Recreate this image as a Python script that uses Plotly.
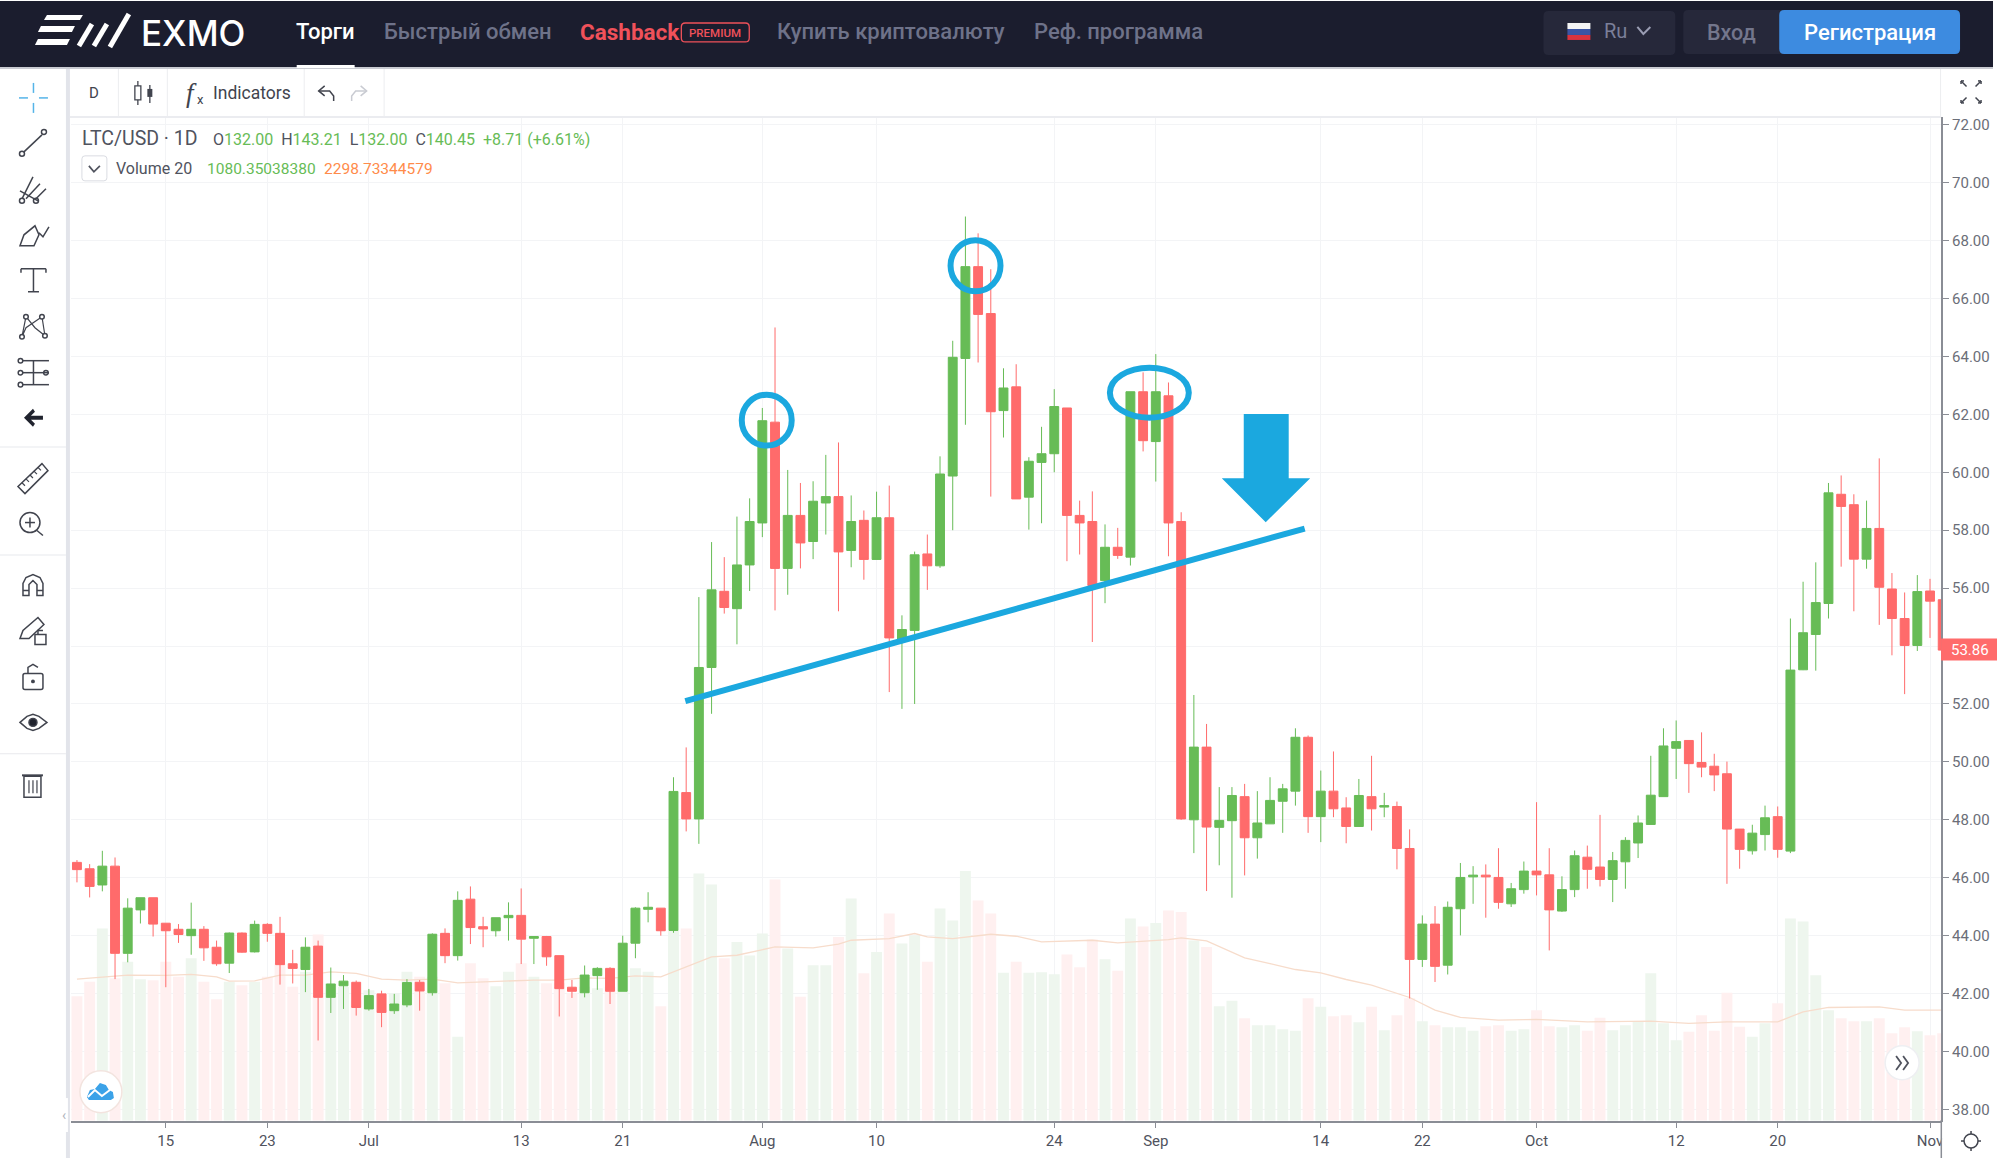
import pandas as pd
import plotly.graph_objects as go

W, H = 1999, 1158

# LTC/USD daily candles, one row per month
open_ = [46.53,46.31,45.75,46.40,43.39,44.89,45.31,44.43,44.22,44.00,44.22,43.60,43.05,44.09,43.44,44.39,44.08,43.03,42.83,43.64,41.87,42.27,42.39,
    41.47,41.99,41.41,41.61,42.39,42.03,44.08,43.31,45.26,44.31,44.17,44.62,44.70,43.91,43.97,43.31,42.22,42.03,42.62,42.87,42.08,43.74,44.91,44.95,44.18,48.94,48.03,53.26,55.89,55.29,56.80,
    58.25,61.73,56.68,58.51,57.61,58.94,59.16,57.30,58.34,56.99,58.43,54.20,54.54,57.18,56.77,59.87,63.93,67.10,65.48,62.13,62.95,59.14,60.34,60.64,62.22,58.51,58.30,56.26,57.41,57.07,62.78,
    61.06,62.64,58.30,48.00,50.51,47.74,47.97,48.80,47.38,47.86,48.64,48.99,50.85,48.11,48.99,48.41,47.77,48.80,48.44,48.46,47.01,43.18,44.40,42.98,44.93,46.03,46.09,46.01,45.10,45.59,
    46.23,46.10,44.85,45.59,46.71,46.37,45.94,46.55,47.20,47.84,48.80,50.47,50.74,49.98,49.85,49.59,47.68,46.93,47.49,48.11,46.92,53.18,54.40,55.47,59.24,58.88,57.00,58.06,55.97,54.95,54.02,
    55.90,55.60]
close = [46.28,45.70,46.40,43.39,44.95,45.31,44.40,44.17,44.04,44.22,43.58,43.03,44.09,43.43,44.39,44.08,43.00,42.87,43.60,41.87,42.33,42.43,41.52,
    41.93,41.35,41.64,42.38,42.09,44.05,43.31,45.22,44.28,44.23,44.62,44.70,43.88,43.97,43.27,42.17,42.08,42.64,42.87,42.08,43.74,44.95,44.98,44.17,48.98,48.03,53.26,55.94,55.33,56.80,58.30,
    61.78,56.68,58.51,57.56,59.00,59.16,57.25,58.30,56.99,58.43,54.28,54.57,57.15,56.77,59.94,63.97,67.10,65.45,62.09,62.91,59.08,60.38,60.64,62.27,58.51,58.25,56.09,57.41,57.13,62.78,61.09,
    62.78,58.25,48.03,50.51,47.75,47.98,48.84,47.38,47.89,48.67,49.07,50.85,48.11,48.99,48.38,47.77,48.84,48.38,48.49,47.01,43.18,44.40,42.94,44.98,46.01,46.09,46.03,45.15,45.62,46.23,
    46.10,44.89,45.59,46.76,46.29,45.94,46.59,47.29,47.89,48.85,50.55,50.70,49.94,49.82,49.55,47.68,46.98,47.54,48.07,46.98,53.17,54.46,55.50,59.29,58.82,57.00,58.06,56.03,54.95,54.02,55.88,
    55.55,53.86]
high = [46.61,46.47,46.93,46.70,45.29,45.31,45.31,44.43,44.40,45.14,44.33,43.83,44.11,44.11,44.52,44.43,44.65,43.51,43.94,43.83,42.90,42.64,42.45,
    42.16,42.10,41.99,42.50,42.47,44.08,44.25,45.53,45.70,44.65,44.62,45.15,45.63,43.97,43.99,43.31,42.47,42.97,42.91,42.91,44.00,44.98,45.50,44.95,49.47,50.50,55.69,57.59,57.07,58.47,59.10,
    62.22,65.00,60.08,59.63,59.69,60.60,61.03,59.20,58.68,59.33,59.54,55.06,57.26,57.85,60.55,64.54,68.83,68.25,67.01,63.59,63.73,60.52,61.57,62.87,62.22,59.02,59.34,58.20,58.08,62.78,63.45,
    64.08,63.10,58.62,52.31,51.31,49.13,49.13,49.24,48.99,49.47,49.24,51.16,50.91,49.70,50.36,48.78,49.41,50.21,48.93,48.63,47.67,44.70,45.02,45.18,46.51,46.40,46.46,47.02,45.82,46.56,
    48.61,47.02,46.05,46.94,47.11,48.17,46.89,47.40,48.15,50.21,51.16,51.43,50.74,51.02,50.28,50.01,47.68,47.83,48.49,48.46,54.95,56.22,56.89,59.63,59.89,59.24,59.02,60.48,56.52,55.85,56.45,
    56.32,56.00]
low = [45.84,45.32,45.53,42.50,43.08,44.42,43.97,42.22,43.75,43.34,43.13,42.96,42.71,43.41,43.42,43.79,42.31,42.35,42.05,40.38,41.33,41.47,41.24,
    41.41,40.84,41.30,41.53,41.41,41.93,43.05,43.14,43.71,43.60,43.97,43.83,43.02,43.02,42.96,41.21,41.85,41.87,42.13,41.64,42.08,43.22,44.46,44.00,44.10,47.60,47.17,51.66,55.12,54.06,55.90,
    57.76,55.23,55.77,56.68,57.00,57.85,55.20,56.72,56.29,56.99,52.41,51.83,52.00,55.94,56.70,58.00,61.64,63.79,59.16,61.20,59.08,58.02,58.24,60.00,56.93,57.16,54.14,55.48,57.01,56.78,60.72,
    59.68,57.10,48.00,46.85,45.54,46.43,45.31,46.08,46.66,47.86,47.55,48.49,47.55,47.23,48.09,47.19,47.77,47.63,48.09,46.29,41.83,42.92,42.40,42.66,44.01,45.10,44.62,44.93,44.99,45.45,
    45.39,43.49,44.82,45.33,45.62,45.70,45.16,45.62,46.68,47.84,48.80,49.41,48.93,49.47,48.99,45.79,46.31,46.80,46.94,46.69,46.85,53.17,53.15,54.95,56.74,55.20,56.67,54.73,53.68,52.34,53.83,
    54.28,53.50]
volume = [2490,2780,3850,2850,3180,2830,2810,3180,2880,3250,2780,2430,2780,2710,2780,2880,3150,2680,2980,3730,2750,2680,2410,
    2610,2550,2550,2980,2880,2880,2750,1680,3150,2850,2690,2980,3150,2880,2750,2750,2550,2680,2650,2680,2850,3050,2980,2290,3810,3850,4950,4730,3250,3580,3310,
    3750,4830,3450,2480,3110,3110,3680,4450,2950,3380,4150,3550,3710,3180,4250,4010,5000,4410,4150,2960,3180,2960,2970,2930,3330,3070,3630,3230,3000,4050,3890,
    3960,4210,4180,3610,3480,2290,2400,2050,1910,1910,1830,1800,2450,2280,2090,2110,1970,2280,1810,2110,2450,1990,1910,1870,1870,1800,1890,1910,1800,1830,
    2210,1890,1870,1910,1800,2060,1810,1910,1980,2950,1950,1610,1780,2110,1800,2560,1880,1680,1950,2350,4050,3990,2910,2210,2050,1990,1990,2050,1750,1870,1790,
    1710,1750]
dates = pd.date_range("2020-06-08", periods=len(close))

ma_dates = ["06-08","06-10","06-12","06-15","06-17","06-19","06-20","06-22","06-24","06-26","06-28","06-30",
    "07-02","07-04","07-06","07-08","07-10","07-12","07-14","07-16","07-18","07-20","07-22","07-24","07-26","07-28","07-30",
    "08-01","08-02","08-05","08-07","08-08","08-11","08-13","08-14","08-16","08-19","08-21","08-23","08-27","08-29",
    "09-02","09-03","09-05","09-08","09-10","09-12","09-14","09-16","09-18","09-21","09-23","09-25","09-28",
    "10-01","10-05","10-10","10-13","10-16","10-20","10-22","10-24","10-28","10-30","11-02"]
ma_values = [2835,2868,2915,2908,2928,2881,2795,2801,2915,2915,2981,2948,
    2835,2815,2835,2761,2781,2795,2815,2815,2861,2848,2901,2881,3081,3281,3313,
    3427,3480,3460,3533,3613,3647,3747,3680,3647,3733,3693,3580,3613,3560,
    3627,3660,3600,3260,3147,3027,2960,2827,2713,2467,2213,2067,2013,
    2027,1980,1993,1947,1980,1980,2180,2267,2280,2213,2213]

tick_dates = ["2020-06-15","2020-06-23","2020-07-01","2020-07-13","2020-07-21","2020-08-01","2020-08-10","2020-08-24",
    "2020-09-01","2020-09-14","2020-09-22","2020-10-01","2020-10-12","2020-10-20","2020-11-01"]
tick_labels = ["15","23","Jul","13","21","Aug","10","24","Sep","14","22","Oct","12","20","Nov"]

GREEN = "#67BC56"
RED = "#FF6B6B"
BLUE = "#1BA8DF"
NAV = "#1B1D2E"
ICON = "#41444E"
FONT = "Roboto"

# plot box in page pixels
LEFT, RIGHT, TOP, BOTTOM = 71, 1943, 116, 1120.7

def px(x):
    return x / W

def py(y):
    return 1 - y / H

shapes = []
notes = []

def line(x0, y0, x1, y1, color=ICON, w=1.5):
    shapes.append(dict(type="line", xref="paper", yref="paper", x0=px(x0), y0=py(y0), x1=px(x1), y1=py(y1),
                       line=dict(color=color, width=w)))

def rect(x0, y0, x1, y1, fill, edge=None, w=1):
    shapes.append(dict(type="rect", xref="paper", yref="paper", x0=px(x0), y0=py(y0), x1=px(x1), y1=py(y1),
                       fillcolor=fill, line=dict(color=edge or fill, width=w if edge else 0)))

def circle(cx, cy, r, fill="rgba(0,0,0,0)", edge=ICON, w=1.5, ry=None):
    ry = ry or r
    shapes.append(dict(type="circle", xref="paper", yref="paper", x0=px(cx - r), y0=py(cy - ry), x1=px(cx + r), y1=py(cy + ry),
                       fillcolor=fill, line=dict(color=edge, width=w)))

def poly(points, fill="rgba(0,0,0,0)", edge=None, w=1.5, closed=True):
    d = "M " + " L ".join(f"{px(x):.5f},{py(y):.5f}" for x, y in points) + (" Z" if closed else "")
    shapes.append(dict(type="path", xref="paper", yref="paper", path=d, fillcolor=fill,
                       line=dict(color=edge or fill, width=w if edge else 0)))

def rrect(x0, y0, x1, y1, r, fill, edge=None, w=1):
    d = (f"M {px(x0+r):.5f},{py(y0):.5f} L {px(x1-r):.5f},{py(y0):.5f} Q {px(x1):.5f},{py(y0):.5f} {px(x1):.5f},{py(y0+r):.5f} "
         f"L {px(x1):.5f},{py(y1-r):.5f} Q {px(x1):.5f},{py(y1):.5f} {px(x1-r):.5f},{py(y1):.5f} "
         f"L {px(x0+r):.5f},{py(y1):.5f} Q {px(x0):.5f},{py(y1):.5f} {px(x0):.5f},{py(y1-r):.5f} "
         f"L {px(x0):.5f},{py(y0+r):.5f} Q {px(x0):.5f},{py(y0):.5f} {px(x0+r):.5f},{py(y0):.5f} Z")
    shapes.append(dict(type="path", xref="paper", yref="paper", path=d, fillcolor=fill,
                       line=dict(color=edge or fill, width=w if edge else 0)))

def txt(x, y, s, size, color, anchor="left", family=FONT, weight=400):
    notes.append(dict(xref="paper", yref="paper", x=px(x), y=py(y), text=s, showarrow=False, xanchor=anchor, yanchor="middle",
                      font=dict(family=family, size=size, color=color, weight=weight), borderpad=0, borderwidth=0))

# top bar
rect(0, 0, 1995, 66, NAV)
rect(0, 66, 1995, 68, "#C9CBD2")
rect(297, 64, 355, 67, "#FFFFFF")
poly([(47, 14), (83, 14), (80, 19), (44, 19)], "#FFFFFF")
poly([(41, 25), (75, 25), (72, 31), (38, 31)], "#FFFFFF")
poly([(38, 38), (70, 38), (67, 44), (35, 44)], "#FFFFFF")
line(79, 45, 92, 23, "#FFFFFF", 5)
line(94, 45, 107, 23, "#FFFFFF", 5)
line(110, 46, 129, 13, "#FFFFFF", 5)
txt(141, 32, "EXMO", 35, "#FFFFFF", family="Inter", weight=500)
txt(326, 31, "Торги", 22, "#FFFFFF", "center", weight=500)
txt(384, 31, "Быстрый обмен", 22, "#6E7289", weight=500)
txt(581, 31, "Cashback", 22.5, "#F0515A", weight=700)
rrect(682, 22, 750, 41, 4, "rgba(0,0,0,0)", "#F0515A", 1.3)
txt(716, 32, "PREMIUM", 11.5, "#F0515A", "center", weight=500)
txt(778, 31, "Купить криптовалюту", 22, "#6E7289", weight=500)
txt(1035, 31, "Реф. программа", 22, "#6E7289", weight=500)
rrect(1545, 10, 1677, 54, 5, "#26283A")
rect(1569, 22, 1592, 28, "#F5F5F5")
rect(1569, 28, 1592, 34, "#3B55A5")
rect(1569, 34, 1592, 39, "#D9333F")
txt(1617, 30, "Ru", 20, "#7B7F99", "center")
poly([(1639, 26), (1645, 33), (1652, 26)], edge="#9A9DB3", w=2, closed=False)
rrect(1685, 9, 1790, 53, 5, "#26283A")
rrect(1781, 9, 1962, 53, 5, "#3D8BE0")
txt(1733, 32, "Вход", 21.5, "#73768C", "center", weight=500)
txt(1872, 32, "Регистрация", 22, "#FFFFFF", "center", weight=500)

# drawing toolbar column
rect(66, 68, 70, H, "#E2E4EA")
rect(0, 446, 66, 447, "#E8E9ED")
rect(0, 554, 66, 555, "#E8E9ED")
rect(0, 753, 66, 754, "#E8E9ED")
rect(60, 1098, 68, 1132, "#FFFFFF")
txt(64, 1115, "‹", 14, "#B0B3BC", "center")

# chart toolbar row
rect(70, 115, RIGHT, 117, "#EBECF0")
for sep_x in [118, 167, 304, 384, 1942]:
    rect(sep_x, 68, sep_x + 1, 116, "#ECEDF0")
txt(94, 92, "D", 15, ICON, "center")
line(138, 80, 138, 104, ICON, 1.3)
rect(135, 85, 141, 99, "#FFFFFF", ICON, 1.3)
line(150, 84, 150, 102, ICON, 1.3)
rect(147.5, 88, 152.5, 96, ICON)
txt(192, 92, "<i>f</i>", 27, ICON, "center", "Liberation Serif")
txt(197, 99, "x", 13, ICON, "left")
txt(213, 92, "Indicators", 17.5, ICON)
poly([(325, 85), (319, 90), (325, 95)], edge=ICON, closed=False)
poly([(319, 90), (330, 90), (334, 95), (334, 100)], edge=ICON, closed=False)
poly([(361, 85), (367, 90), (361, 95)], edge="#C9CBD2", closed=False)
poly([(367, 90), (356, 90), (352, 95), (352, 100)], edge="#C9CBD2", closed=False)
for sx, sy in [(-1, -1), (1, -1), (-1, 1), (1, 1)]:
    cx, cy = 1973 + sx * 7, 91 + sy * 8
    line(cx - sx * 2.5, cy - sy * 2.5, cx + sx * 3, cy + sy * 3, ICON, 1.5)
    line(cx + sx * 3, cy + sy * 3, cx, cy + sy * 3, ICON, 1.5)
    line(cx + sx * 3, cy + sy * 3, cx + sx * 3, cy, ICON, 1.5)

# toolbar icons
ACTIVE = "#55B4E8"
line(33.5, 82, 33.5, 92, ACTIVE, 1.5)
line(33.5, 102, 33.5, 112, ACTIVE, 1.5)
line(19, 97, 28, 97, ACTIVE, 1.5)
line(39, 97, 48, 97, ACTIVE, 1.5)

line(24, 151, 42, 134)
circle(22, 153, 2.5)
circle(44, 131, 2.5)

line(22, 198, 33, 176)
line(26, 198, 40, 183)
line(36, 198, 46, 188)
line(20, 190, 38, 200)
circle(22, 200, 2.5)
circle(36, 200, 2.5)

poly([(20, 245), (24, 234), (35, 225), (39, 234), (34, 245)], edge=ICON)
poly([(39, 232), (43, 236), (49, 226)], edge=ICON, closed=False)

line(21, 268, 46, 268)
line(21, 268, 21, 272)
line(46, 268, 46, 272)
line(33.5, 268, 33.5, 291)
line(28, 291, 39, 291)

poly([(22, 336), (26, 316), (35, 327), (45, 335), (42, 316), (26, 327), (22, 336)], edge=ICON, w=1.2, closed=False)
for ix, iy in [(22, 336), (26, 316), (45, 335), (42, 316)]:
    circle(ix, iy, 2.3, "#FFFFFF")

for row_y in [360, 372, 384]:
    line(23, row_y, 49, row_y)
    circle(20.5, row_y, 2.3)
circle(46, 372, 2.3)
line(33.5, 360, 33.5, 384)

poly([(24, 417), (33, 408), (35, 411), (31, 415), (43, 415), (43, 419), (31, 419), (35, 423), (33, 426)], "#20232E")

poly([(18, 486), (42, 463), (48, 470), (25, 493)], edge=ICON)
for k in range(1, 6):
    tx, ty = 18 + k * 4, 486 - k * 3.85
    line(tx, ty, tx + 3, ty + 3, ICON, 1.2)

circle(30, 522, 10)
line(25, 522, 35, 522)
line(30, 517, 30, 527)
line(37, 530, 43, 535)

poly([(23, 595), (23, 583), (26, 577), (33, 574), (40, 577), (43, 583), (43, 595), (37, 595), (37, 584), (33, 580), (29, 584), (29, 595)], edge=ICON)
line(23, 590, 29, 590)
line(37, 590, 43, 590)

poly([(20, 638), (23, 630), (38, 617), (44, 624), (29, 638)], edge=ICON)
rect(35, 634, 46, 644, "#FFFFFF", ICON, 1.5)
poly([(38, 634), (38, 630), (43, 630)], edge=ICON, closed=False)

rrect(23, 673, 43, 689, 2, "#FFFFFF", ICON, 1.5)
poly([(28, 673), (28, 667), (33, 664), (38, 667)], edge=ICON, closed=False)
circle(33, 681, 1.2, ICON)

poly([(20, 722), (27, 716), (33, 714), (39, 716), (47, 722), (39, 728), (33, 730), (27, 728)], edge=ICON)
circle(33, 722, 4, "#20232E")

rect(24, 776, 41, 797, "#FFFFFF", ICON, 1.5)
line(22, 775, 43, 775, ICON, 2)
for bar_x in [29, 33, 37]:
    line(bar_x, 780, bar_x, 793, ICON, 1.2)

# legend block
txt(82, 138, "LTC/USD · 1D", 19.5, "#50535E")
g = lambda s: f"<span style='color:{GREEN}'>{s}</span>"
txt(213, 139, f"O{g('132.00')}  H{g('143.21')}  L{g('132.00')}  C{g('140.45')}  {g('+8.71 (+6.61%)')}", 16, "#50535E")
rrect(82, 155, 107, 180, 3, "#FFFFFF", "#DADCE2", 1)
poly([(89, 165), (94, 171), (100, 165)], edge="#50535E", w=1.7, closed=False)
txt(116, 168, "Volume 20", 16, "#50535E")
txt(207, 168, "1080.35038380", 15.5, GREEN)
txt(324, 168, "2298.73344579", 15.5, "#FF8B4A")

# what the chart is annotated with
poly([(686, 700.7), (1306, 528)], edge=BLUE, w=6, closed=False)
circle(767.5, 419.5, 25, edge=BLUE, w=6, ry=25.5)
circle(976.5, 265, 25, edge=BLUE, w=6, ry=25.5)
circle(1150.5, 392, 39.5, edge=BLUE, w=6, ry=25)
poly([(1245, 413.3), (1290, 413.3), (1290, 477.7), (1311.5, 477.7), (1267, 521.7), (1223, 477.7), (1245, 477.7)], BLUE)

# small round buttons on the chart
circle(101, 1091.7, 21, "#FFFFFF", "#F3E4DF", 1.5)
poly([(87, 1097), (90, 1090), (95, 1089), (100, 1083), (106, 1085), (109, 1090), (113, 1092), (114, 1098), (111, 1100), (89, 1100)], "#3BA2E8")
poly([(88, 1097), (95, 1090), (102, 1096), (110, 1090)], edge="#FFFFFF", w=2, closed=False)
circle(1904, 1062.7, 17, "#FFFFFF", "#EEEFF2", 1.5)
poly([(1898, 1056), (1903, 1063), (1898, 1070)], edge="#50535E", w=1.8, closed=False)
poly([(1905, 1056), (1910, 1063), (1905, 1070)], edge="#50535E", w=1.8, closed=False)

# cover the right end of the date labels, holds the settings icon
rect(1944, 1122, W, H, "#FFFFFF")
rect(1942.5, 1120, 1944, H, "#8A8D95")
circle(1973, 1141, 7)
for sx, sy in [(0, -1), (0, 1), (-1, 0), (1, 0)]:
    line(1973 + sx * 7, 1141 + sy * 7, 1973 + sx * 10, 1141 + sy * 10)

# last price tag
rect(1943, 638, W, 660, RED)
txt(1953, 649.5, "53.86", 15, "#FFFFFF")

vol_colors = ["#EEF6EE" if c >= o else "#FFF0F0" for o, c in zip(open_, close)]

fig = go.Figure()
fig.add_trace(go.Bar(x=dates, y=volume, marker=dict(color=vol_colors, line_width=0), yaxis="y", hoverinfo="skip"))
fig.add_trace(go.Scatter(x=[f"2020-{d}" for d in ma_dates], y=ma_values, mode="lines", yaxis="y",
                         line=dict(color="#F7DCCB", width=1.3), hoverinfo="skip"))
fig.add_trace(go.Candlestick(x=dates, open=open_, high=high, low=low, close=close, yaxis="y2",
                             increasing=dict(fillcolor=GREEN, line=dict(color=GREEN, width=1)),
                             decreasing=dict(fillcolor=RED, line=dict(color=RED, width=1)),
                             whiskerwidth=0))

fig.update_layout(
    width=W, height=H, autosize=False, showlegend=False,
    margin=dict(l=0, r=0, t=0, b=0),
    paper_bgcolor="#FFFFFF", plot_bgcolor="#FFFFFF",
    bargap=0.14, boxgap=0.3, boxgroupgap=0,
    font=dict(family=FONT, color="#50535E", size=15),
    xaxis=dict(type="date", domain=[px(LEFT), px(RIGHT)], range=["2020-06-07 12:36", "2020-11-01 20:53"],
               rangeslider=dict(visible=False), tickmode="array", tickvals=tick_dates, ticktext=tick_labels,
               showgrid=True, gridcolor="#F3F4F6", gridwidth=1, zeroline=False,
               showline=True, linecolor="#8A8D95", linewidth=2, ticks="outside", ticklen=5, tickcolor="#8A8D95",
               tickfont=dict(size=15, color="#50535E")),
    yaxis=dict(domain=[py(BOTTOM), py(TOP)], range=[0, 20094], visible=False, fixedrange=True),
    yaxis2=dict(overlaying="y", side="right", anchor="x", range=[37.61, 72.27], dtick=2, tick0=38, tickformat=".2f",
                showgrid=True, gridcolor="#F3F4F6", gridwidth=1, zeroline=False,
                showline=True, linecolor="#8A8D95", linewidth=2, ticks="outside", ticklen=6, tickcolor="#8A8D95",
                tickfont=dict(size=15, color="#6B6E78")),
    shapes=shapes,
    annotations=notes,
)

# the page's default body margin would push the figure off the window
fig.write_html("out.html", config={"displayModeBar": False},
               post_script="document.body.style.margin='0';document.body.style.overflow='hidden';")
